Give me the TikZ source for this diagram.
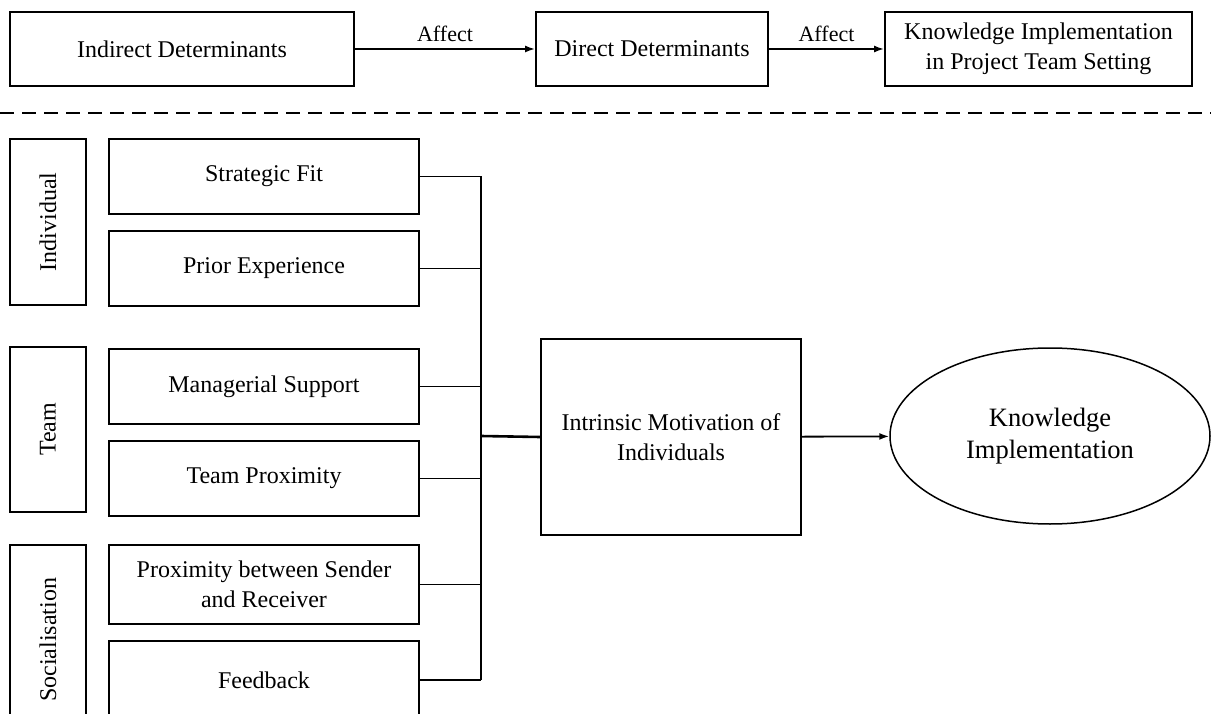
\documentclass[tikz,border=0pt]{standalone}
\usepackage{fontspec}
\setmainfont{Liberation Serif}
\usetikzlibrary{arrows.meta,shapes.geometric}
\begin{document}
\begin{tikzpicture}[x=1pt,y=-1pt,
  box/.style={draw,line width=1.8pt,inner sep=0pt,align=center,
    font=\fontsize{24}{30}\selectfont},
  catbox/.style={box,rotate=90,minimum width=#1,minimum height=76pt},
  factor/.style={box,minimum width=310pt},
  link/.style={line width=1.8pt},
  arr/.style={link,-{Latex[length=10pt,width=7pt]}},
  lbl/.style={font=\fontsize{22}{26}\selectfont,above,inner sep=6pt}]
\useasboundingbox (0,0) rectangle (1211,714);
\clip (0,0) rectangle (1211,714);

% legend row
\node[box,minimum width=344pt,minimum height=74pt] (ind) at (182,49) {Indirect Determinants};
\node[box,minimum width=232pt,minimum height=74pt] (dir) at (652,49) {Direct Determinants};
\node[box,minimum width=307pt,minimum height=74pt] (kis) at (1038.5,49) {Knowledge Implementation\\in Project Team Setting};
\draw[arr] (ind) -- node[lbl] {Affect} (dir);
\draw[arr] (dir) -- node[lbl] {Affect} (kis);

% separator
\coordinate (sepL) at (0,113);
\coordinate (sepR) at (1211,113);
\draw[line width=1.8pt,dash pattern=on 14pt off 8pt] (sepL) -- (sepR);

% categories
\node[catbox=166pt] (cind) at (48,222) {Individual};
\node[catbox=165pt] (cteam) at (48,429.5) {Team};
\node[catbox=190pt] (csoc) at (48,640) {Socialisation};

% determinants
\node[factor,minimum height=75pt] (sf) at (264,176.5) {Strategic Fit};
\node[factor,minimum height=75pt] (pe) at (264,268.5) {Prior Experience};
\node[factor,minimum height=75pt] (ms) at (264,386.5) {Managerial Support};
\node[factor,minimum height=75pt] (tp) at (264,478.5) {Team Proximity};
\node[factor,minimum height=79pt] (ps) at (264,584.5) {Proximity between Sender\\and Receiver};
\node[factor,minimum height=78pt] (fb) at (264,680) {Feedback};

% motivation and outcome
\node[box,minimum width=260pt,minimum height=196pt] (im) at (671,437) {Intrinsic Motivation of\\Individuals};
\node[box,ellipse,line width=1.5pt,minimum width=320pt,minimum height=176pt,
  font=\fontsize{26.5}{32}\selectfont] (ki) at (1050,436) {Knowledge\\Implementation};

% collecting bus
\coordinate (bus) at (481,436);
\foreach \n in {sf,pe,ms,tp,ps,fb}
  \draw[link] (\n.east) -- (\n.east -| bus);
\draw[link] (sf.east -| bus) -- (fb.east -| bus);
\draw[line width=2.6pt] (bus) -- (im.west);
\draw[arr] (im) -- (ki);
\end{tikzpicture}
\end{document}
